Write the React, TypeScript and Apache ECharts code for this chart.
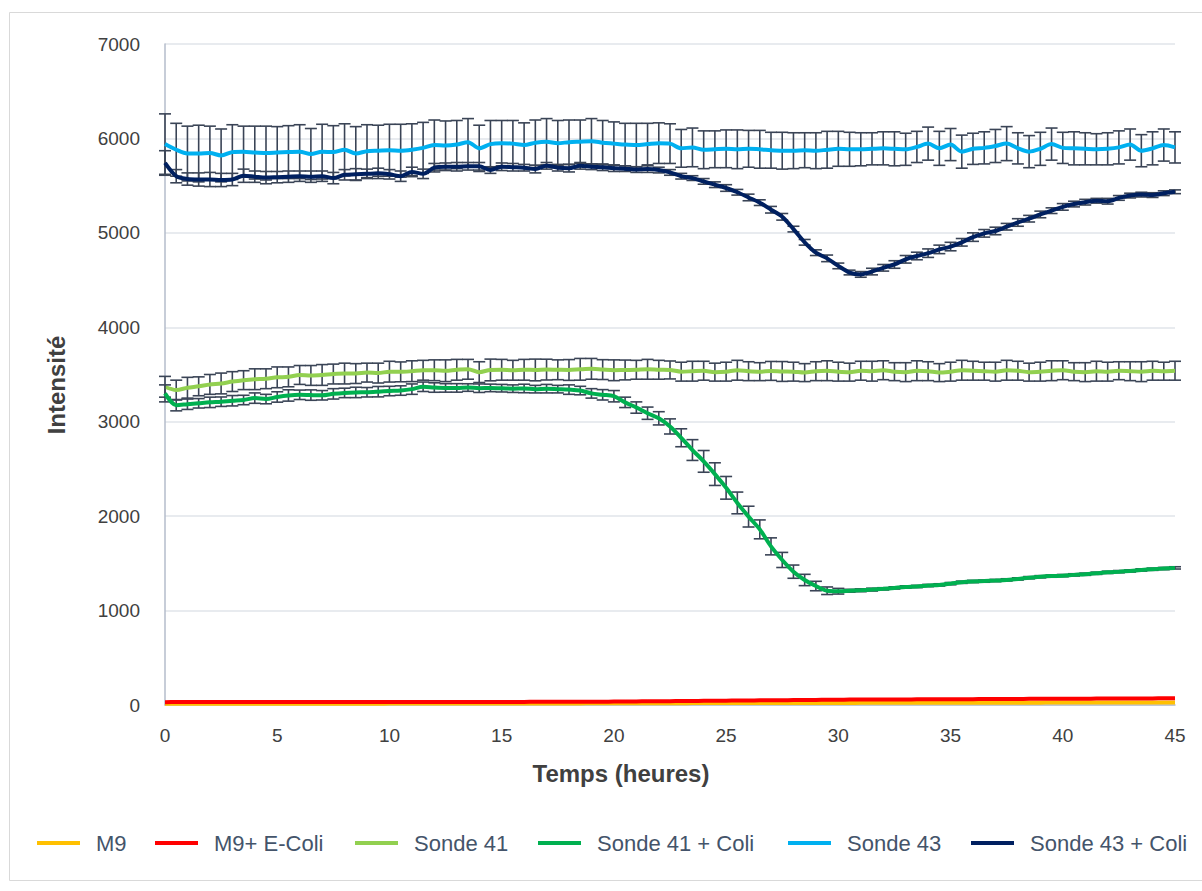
import React, { useEffect, useRef } from "react";
import * as echarts from "echarts";

const STEP = 0.5;
const N = 91;

const m9 = [
  12, 12, 12, 12, 12, 13, 13, 13, 13, 13, 13, 13, 14, 14, 14, 14, 14, 14, 14, 14, 15,
  15, 15, 15, 15, 15, 16, 16, 16, 16, 16, 16, 17, 17, 17, 17, 17, 17, 18, 18, 18,
  18, 18, 19, 19, 19, 19, 20, 20, 20, 20, 20, 21, 21, 21, 21, 22, 22, 22, 22, 22,
  22, 23, 23, 23, 23, 23, 24, 24, 24, 24, 24, 24, 25, 25, 25, 25, 25, 25, 26, 26, 26, 26, 26, 26, 27, 27, 27, 27, 27, 27,
];
const m9Coli = [
  30, 31, 31, 31, 31, 31, 31, 31, 31, 31, 31, 32, 32, 32, 32, 32, 32, 32, 32, 32, 32,
  32, 32, 32, 32, 33, 33, 33, 33, 33, 33, 33, 33, 34, 34, 34, 34, 35, 35, 35, 36,
  37, 38, 39, 40, 41, 42, 43, 44, 45, 46, 47, 48, 49, 50, 51, 52, 53, 54, 55, 56,
  57, 57, 58, 58, 59, 59, 60, 60, 61, 61, 62, 62, 63, 63, 64, 64, 65, 65, 66, 66, 67, 67, 68, 68, 69, 69, 70, 70, 71, 72,
];
const sonde41 = [
  3370, 3335, 3360, 3375, 3395, 3405, 3425, 3440, 3450, 3455, 3470, 3475, 3495, 3490, 3495, 3505, 3510, 3510, 3520, 3515, 3530,
  3528, 3535, 3545, 3545, 3540, 3550, 3555, 3525, 3548, 3550, 3545, 3550, 3548, 3552, 3550, 3548, 3555, 3560, 3552, 3545,
  3548, 3550, 3555, 3550, 3548, 3530, 3535, 3540, 3525, 3530, 3545, 3535, 3530, 3538, 3532, 3530, 3520, 3535, 3540, 3530,
  3525, 3540, 3535, 3545, 3530, 3525, 3540, 3535, 3520, 3530, 3545, 3540, 3535, 3530, 3545, 3540, 3525, 3530, 3540, 3545, 3530, 3525, 3535, 3530, 3540, 3535, 3530, 3540, 3535, 3540,
];
const sonde41Err = [
  110, 105, 110, 100, 105, 110, 105, 100, 110, 105, 110, 105, 100, 105, 110, 105, 110, 105, 100, 105, 110,
  105, 110, 105, 110, 115, 110, 105, 110, 115, 110, 105, 110, 115, 110, 105, 110, 115, 110, 105, 110,
  105, 100, 105, 100, 95, 100, 105, 100, 95, 100, 105, 100, 95, 100, 105, 100, 95, 100, 105, 100,
  95, 100, 105, 100, 95, 100, 105, 100, 95, 100, 105, 100, 95, 100, 105, 100, 95, 100, 105, 100, 95, 100, 105, 100, 95, 100, 105, 100, 95, 100,
];
const sonde41Coli = [
  3300, 3175, 3185, 3195, 3205, 3212, 3222, 3230, 3250, 3240, 3262, 3278, 3285, 3282, 3280, 3295, 3305, 3310, 3312, 3318, 3325,
  3330, 3345, 3370, 3362, 3358, 3358, 3362, 3355, 3358, 3355, 3350, 3352, 3345, 3350, 3345, 3340, 3330, 3300, 3285, 3270,
  3205, 3150, 3090, 3036, 2950, 2830, 2700, 2580, 2445, 2300, 2140, 1995, 1860, 1680, 1536, 1412, 1324, 1260, 1210, 1205,
  1210, 1215, 1222, 1230, 1240, 1250, 1255, 1265, 1272, 1285, 1300, 1308, 1312, 1318, 1325, 1335, 1348, 1358, 1365, 1370, 1378, 1385, 1395, 1405, 1412, 1420, 1430, 1438, 1445, 1452,
];
const sonde41ColiErr = [
  90, 60, 55, 50, 55, 50, 55, 50, 55, 50, 55, 60, 50, 55, 50, 55, 50, 55, 50, 55, 50,
  50, 55, 50, 50, 45, 45, 40, 45, 40, 40, 40, 45, 40, 45, 40, 50, 45, 50, 55, 60,
  55, 60, 65, 70, 80, 95, 110, 115, 120, 120, 115, 110, 100, 90, 80, 70, 60, 50, 40, 30,
  15, 15, 15, 12, 12, 12, 12, 12, 12, 12, 12, 12, 12, 12, 12, 12, 12, 12, 12, 12, 12, 12, 12, 12, 12, 12, 12, 12, 12, 12,
];
const sonde43 = [
  5940, 5880, 5840, 5840, 5845, 5820, 5855, 5860, 5850, 5845, 5850, 5855, 5860, 5835, 5860, 5855, 5880, 5840, 5865, 5870, 5875,
  5870, 5880, 5900, 5930, 5925, 5935, 5960, 5895, 5940, 5950, 5945, 5930, 5955, 5965, 5950, 5960, 5965, 5970, 5955, 5945,
  5935, 5930, 5940, 5950, 5945, 5895, 5905, 5880, 5885, 5890, 5885, 5890, 5885, 5875, 5870, 5870, 5875, 5870, 5880, 5890,
  5885, 5885, 5890, 5895, 5890, 5885, 5910, 5945, 5895, 5935, 5860, 5890, 5900, 5920, 5945, 5895, 5860, 5890, 5940, 5900, 5895, 5890, 5885, 5890, 5905, 5935, 5870, 5895, 5930, 5905,
];
const sonde43Err = [
  320, 280, 290, 300, 285, 280, 290, 270, 280, 285, 275, 280, 285, 270, 290, 280, 275, 285, 280, 270, 275,
  280, 275, 270, 265, 260, 255, 250, 245, 250, 240, 245, 235, 240, 245, 240, 235, 230, 240, 235, 230,
  225, 230, 220, 215, 210, 200, 205, 200, 195, 200, 205, 195, 200, 190, 195, 190, 185, 190, 195, 185,
  180, 175, 170, 175, 180, 170, 165, 175, 180, 170, 175, 165, 170, 175, 180, 165, 170, 175, 170, 165, 175, 170, 165, 170, 175, 165, 170, 175, 170, 165,
];
const sonde43Coli = [
  5740, 5600, 5570, 5565, 5565, 5560, 5565, 5605, 5595, 5585, 5590, 5595, 5600, 5595, 5600, 5580, 5615, 5620, 5625, 5630, 5620,
  5600, 5645, 5625, 5690, 5700, 5700, 5705, 5705, 5665, 5700, 5695, 5690, 5675, 5710, 5690, 5685, 5710, 5700, 5695, 5685,
  5680, 5670, 5675, 5665, 5640, 5600, 5580, 5545, 5510, 5475, 5430, 5375, 5320, 5245, 5170, 5040, 4900, 4790, 4730, 4650,
  4580, 4560, 4590, 4630, 4665, 4720, 4755, 4785, 4825, 4855, 4900, 4955, 4995, 5020, 5065, 5110, 5150, 5195, 5235, 5275, 5305, 5325, 5340, 5335, 5370, 5395, 5405, 5400, 5420, 5435,
];
const sonde43ColiErr = [
  130, 70, 65, 70, 75, 70, 65, 70, 60, 65, 60, 60, 55, 60, 55, 60, 55, 60, 50, 55, 50,
  55, 50, 50, 45, 40, 45, 40, 40, 35, 40, 40, 35, 40, 35, 35, 40, 35, 30, 35, 35,
  30, 30, 35, 30, 30, 30, 25, 30, 30, 35, 30, 35, 30, 35, 35, 30, 30, 30, 35, 30,
  25, 30, 35, 35, 40, 40, 40, 45, 45, 45, 40, 45, 40, 40, 35, 40, 35, 35, 30, 35, 30, 30, 25, 30, 25, 25, 25, 25, 25, 20,
];

const seriesNames = ["M9", "M9+ E-Coli", "Sonde 41", "Sonde 41 + Coli", "Sonde 43", "Sonde 43 + Coli"];
const seriesColors = ["#FFC000", "#FF0000", "#92D050", "#00B050", "#00B0F0", "#002060"];
const seriesValues = [m9, m9Coli, sonde41, sonde41Coli, sonde43, sonde43Coli];
const seriesErrors = [null, null, sonde41Err, sonde41ColiErr, sonde43Err, sonde43ColiErr];
const legendLeft = [37, 155, 355, 538, 788, 971];

const xTitle = "Temps (heures)";
const yTitle = "Intensité";
const xTicks = { min: 0, max: 45, interval: 5 };
const yTicks = { min: 0, max: 7000, interval: 1000 };

const times = Array.from({ length: N }, (_, i) => i * STEP);

export default function App() {
  const ref = useRef<HTMLDivElement>(null);
  useEffect(() => {
    document.body.style.margin = "0";
    if (!ref.current) return;
    const chart = echarts.init(ref.current, null, { renderer: "svg" });
    const errColor = "#3a4456";
    const series: any[] = [];
    seriesNames.forEach((name, k) => {
      const vals = seriesValues[k];
      const errs = seriesErrors[k];
      if (errs) {
        series.push({
          type: "custom",
          name: name + " err",
          z: 3 + k * 2,
          silent: true,
          encode: { x: 0, y: [1, 2] },
          data: vals.map((v, i) => [times[i], v - errs[i], v + errs[i]]),
          renderItem: (params: any, api: any) => {
            const x = api.value(0);
            const lo = api.value(1);
            const hi = api.value(2);
            const p1 = api.coord([x, hi]);
            const p2 = api.coord([x, lo]);
            const w = 6;
            const style = { stroke: errColor, lineWidth: 1.6 };
            return {
              type: "group",
              children: [
                { type: "line", shape: { x1: p1[0], y1: p1[1], x2: p2[0], y2: p2[1] }, style },
                { type: "line", shape: { x1: p1[0] - w, y1: p1[1], x2: p1[0] + w, y2: p1[1] }, style },
                { type: "line", shape: { x1: p2[0] - w, y1: p2[1], x2: p2[0] + w, y2: p2[1] }, style },
              ],
            };
          },
        });
      }
      series.push({
        type: "line",
        name,
        z: 4 + k * 2,
        symbol: "none",
        smooth: 0.3,
        color: seriesColors[k],
        lineStyle: { width: 4, color: seriesColors[k] },
        data: vals.map((v, i) => [times[i], v]),
      });
    });

    const legends = seriesNames.map((name, k) => ({
      data: [name],
      left: legendLeft[k],
      top: 832,
      icon: "rect",
      itemWidth: 43,
      itemHeight: 4,
      padding: 0,
      textStyle: {
        fontFamily: "Liberation Sans",
        fontSize: 22,
        color: "#44546a",
        padding: [0, 0, 0, 11],
      },
    }));

    chart.setOption({
      animation: false,
      backgroundColor: "#ffffff",
      textStyle: { fontFamily: "Liberation Sans" },
      graphic: [
        {
          type: "rect",
          shape: { x: 9.5, y: 12.5, width: 1200, height: 868 },
          style: { fill: "none", stroke: "#d9d9d9", lineWidth: 1 },
          silent: true,
        },
        {
          type: "text",
          x: 621,
          y: 773,
          style: {
            text: xTitle,
            fontSize: 24,
            fontWeight: "bold",
            fill: "#404040",
            fontFamily: "Liberation Sans",
            align: "center",
            verticalAlign: "middle",
          },
        },
        {
          type: "text",
          x: 56,
          y: 385,
          rotation: Math.PI / 2,
          style: {
            text: yTitle,
            fontSize: 24,
            fontWeight: "bold",
            fill: "#404040",
            fontFamily: "Liberation Sans",
            align: "center",
            verticalAlign: "middle",
          },
        },
      ],
      legend: legends,
      grid: { left: 165, right: 27, top: 44, bottom: 186 },
      xAxis: {
        type: "value",
        min: xTicks.min,
        max: xTicks.max,
        interval: xTicks.interval,
        axisLine: { show: true, lineStyle: { color: "#b4bccb", width: 1.5 } },
        axisTick: { show: false },
        axisLabel: { fontSize: 19, color: "#404040", margin: 21, fontFamily: "Liberation Sans" },
        splitLine: { show: false },
      },
      yAxis: {
        type: "value",
        min: yTicks.min,
        max: yTicks.max,
        interval: yTicks.interval,
        axisLine: { show: true, lineStyle: { color: "#b4bccb", width: 1.5 } },
        axisTick: { show: false },
        axisLabel: {
          fontSize: 19,
          color: "#404040",
          margin: 25,
          fontFamily: "Liberation Sans",
          formatter: (v: number) => String(v),
        },
        splitLine: { show: true, lineStyle: { color: "#e1e4ea", width: 1.5 } },
      },
      series,
    });
    return () => chart.dispose();
  }, []);
  return <div ref={ref} style={{ width: 1202, height: 891 }} />;
}
